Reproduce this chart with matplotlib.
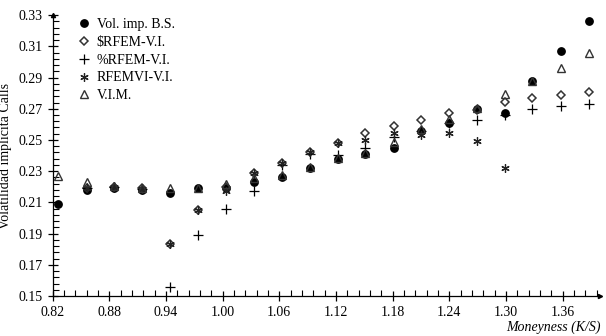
import matplotlib
matplotlib.use("Agg")
import matplotlib.pyplot as plt
import numpy as np
from matplotlib.ticker import FixedLocator, FormatStrFormatter

plt.rcParams['font.family'] = ['Liberation Serif', 'DejaVu Serif']

# moneyness K/S
moneyness = [0.826, 0.856, 0.885, 0.915, 0.944, 0.974, 1.004, 1.033, 1.063, 1.092,
             1.122, 1.151, 1.181, 1.210, 1.240, 1.269, 1.299, 1.328, 1.358, 1.388]

vol_bs = [0.209, 0.218, 0.219, 0.218, 0.216, 0.219, 0.219, 0.223, 0.226, 0.232,
          0.2375, 0.241, 0.2446, 0.256, 0.261, 0.270, 0.2674, 0.288, 0.307, 0.3264]
rfem_d = [np.nan, 0.219, 0.220, 0.219, 0.1833, 0.205, 0.220, 0.2286, 0.2354, 0.2424,
          0.2482, 0.2542, 0.2589, 0.2627, 0.267, 0.2695, 0.2745, 0.2767, 0.2788, 0.2805]
rfem_p = [np.nan, 0.219, 0.220, 0.2185, 0.1556, 0.1889, 0.2057, 0.2174, 0.234, 0.241,
          0.2403, 0.2446, 0.252, 0.2555, 0.261, 0.2627, 0.2659, 0.2696, 0.2717, 0.2728]
rfemvi = [np.nan, 0.219, 0.220, 0.2185, 0.1833, 0.205, 0.217, 0.2286, 0.2354, 0.2424,
          0.2482, 0.250, 0.2542, 0.253, 0.2542, 0.2493, 0.2318, np.nan, np.nan, np.nan]
vim = [0.2271, 0.2232, 0.2205, 0.219, 0.219, 0.2195, 0.222, 0.2254, 0.2275, 0.2328,
       0.2382, 0.2414, 0.2488, 0.257, 0.2632, 0.2702, 0.2794, 0.2879, 0.2958, 0.3055]

x_ticks = [0.82, 0.88, 0.94, 1.00, 1.06, 1.12, 1.18, 1.24, 1.30, 1.36]
y_ticks = [0.15, 0.17, 0.19, 0.21, 0.23, 0.25, 0.27, 0.29, 0.31, 0.33]

fig = plt.figure(figsize=(6.06, 3.36), dpi=100)
ax = fig.add_axes([0.0868, 0.119, 0.904, 0.836])

ax.plot(moneyness, vol_bs, 'o', color='black', markersize=5.3, label='Vol. imp. B.S.', zorder=3)
ax.plot(moneyness, rfem_d, 'D', mfc='none', mec='#333333', markersize=3.6, mew=1.1, label='$RFEM-V.I.', zorder=4)
ax.plot(moneyness, rfem_p, '+', color='black', markersize=7, mew=0.9, label='%RFEM-V.I.', zorder=4)
ax.plot(moneyness, rfemvi, marker=(6, 2, 0), ls='none', color='#222222', markersize=6, mew=0.9, label='RFEMVI-V.I.', zorder=4)
ax.plot(moneyness, vim, '^', mfc='none', mec='#333333', markersize=5.3, mew=1.0, label='V.I.M.', zorder=4)

ax.set_xlim(0.82, 1.40)
ax.set_ylim(0.15, 0.33)
ax.xaxis.set_major_locator(FixedLocator(x_ticks))
ax.yaxis.set_major_locator(FixedLocator(y_ticks))
ax.xaxis.set_minor_locator(FixedLocator(np.arange(0.82, 1.40, 0.012)))
ax.yaxis.set_minor_locator(FixedLocator(np.arange(0.15, 0.331, 0.004)))
ax.xaxis.set_major_formatter(FormatStrFormatter('%.2f'))
ax.yaxis.set_major_formatter(FormatStrFormatter('%.2f'))
ax.tick_params(which='major', direction='inout', length=7, width=0.9, labelsize=10)
ax.tick_params(which='minor', direction='in', length=4, width=0.8)

for s in ['top', 'right']:
    ax.spines[s].set_visible(False)
ax.spines['left'].set_linewidth(0.9)
ax.spines['bottom'].set_linewidth(0.9)
ax.plot(1, 0, '>', color='black', markersize=3, transform=ax.transAxes, clip_on=False)
ax.plot(0, 1, '^', color='black', markersize=3, transform=ax.transAxes, clip_on=False)

ax.set_ylabel('Volatilidad implícita Calls', fontsize=10, labelpad=5)
ax.set_xlabel('Moneyness (K/S)', fontsize=10, style='italic', loc='right', labelpad=1)

ax.legend(loc='upper left', bbox_to_anchor=(0.027, 1.02), frameon=False, fontsize=10,
          handletextpad=0.3, handlelength=1.2, labelspacing=0.35, borderaxespad=0.2)

fig.savefig('out.png', dpi=100)
